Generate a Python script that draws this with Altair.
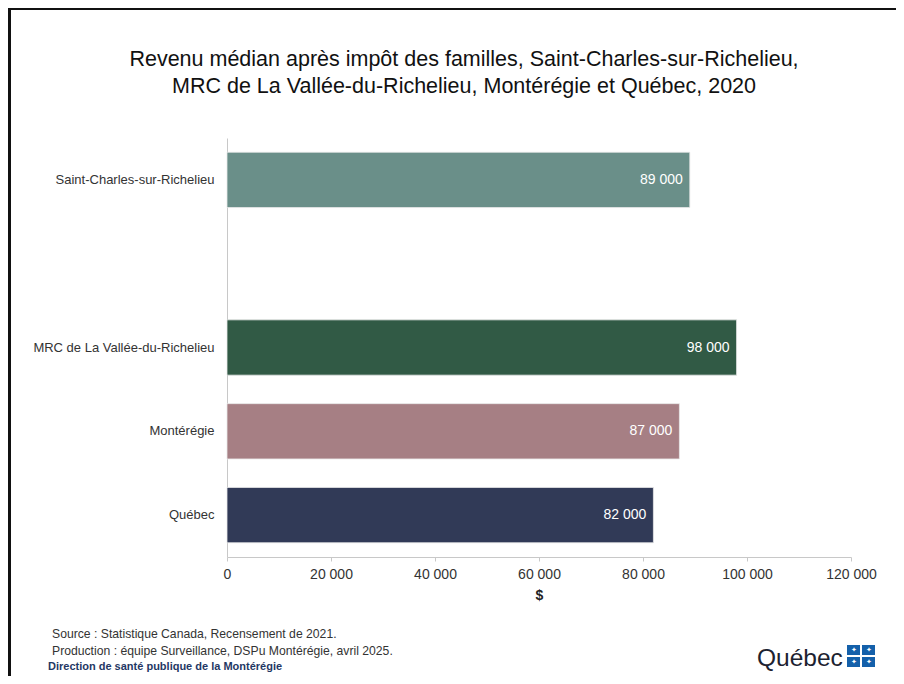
import altair as alt
import pandas as pd

categories = ["Saint-Charles-sur-Richelieu", "MRC de La Vallée-du-Richelieu", "Montérégie", "Québec"]
values = [89000, 98000, 87000, 82000]
colors = ["#6a8f89", "#315a45", "#a67f84", "#313a57"]
domain_order = ["Saint-Charles-sur-Richelieu", " ", "MRC de La Vallée-du-Richelieu", "Montérégie", "Québec"]
x_ticks = [0, 20000, 40000, 60000, 80000, 100000, 120000]

title_lines = [
    "Revenu médian après impôt des familles, Saint-Charles-sur-Richelieu,",
    "MRC de La Vallée-du-Richelieu, Montérégie et Québec, 2020",
]
footer_lines = [
    "Source : Statistique Canada,  Recensement de 2021.",
    "Production : équipe Surveillance, DSPu Montérégie, avril 2025.",
]
footer_org = "Direction de santé publique de la Montérégie"
logo_text = "Québec"

df = pd.DataFrame({"cat": categories, "val": values, "col": colors})

W, H = 624, 419
FONT = "Liberation Sans"
OX, OY = 227, 138  # plot origin on page


def txt(s, x, y, **kw):
    return alt.Chart(pd.DataFrame({"t": [s]})).mark_text(**kw).encode(
        text="t:N", x=alt.value(x - OX), y=alt.value(y - OY))


def box(x0, x1, y0, y1, color):
    return alt.Chart(pd.DataFrame({"a": [0]})).mark_rect(color=color).encode(
        x=alt.value(x0 - OX), x2=alt.value(x1 - OX),
        y=alt.value(y0 - OY), y2=alt.value(y1 - OY))


base = alt.Chart(df)

bars = base.mark_bar(stroke="#e8e8e8", strokeWidth=0.8).encode(
    y=alt.Y("cat:N", sort=domain_order,
            scale=alt.Scale(domain=domain_order, paddingInner=0.34, paddingOuter=0.17),
            axis=alt.Axis(title=None, ticks=False, domainColor="#c8c8c8", labelFont=FONT,
                          labelFontSize=13, labelColor="#333333", labelPadding=13, labelLimit=300)),
    x=alt.X("val:Q", scale=alt.Scale(domain=[0, 120000]),
            axis=alt.Axis(values=x_ticks, title="$", titleFont=FONT, titleFontSize=14,
                          titleFontWeight="bold", titleColor="#222222", titlePadding=7,
                          labelFont=FONT, labelFontSize=14, labelColor="#333333",
                          labelPadding=6, labelFlush=False, tickColor="#c8c8c8", tickSize=4,
                          domainColor="#c8c8c8", grid=False,
                          labelExpr="replace(format(datum.value, ',d'), ',', ' ')")),
    color=alt.Color("col:N", scale=None),
)

labels = base.transform_calculate(
    lab="replace(format(datum.val, ',d'), ',', ' ')"
).mark_text(align="right", baseline="middle", dx=-7, color="white", font=FONT, fontSize=14).encode(
    y=alt.Y("cat:N", sort=domain_order),
    x="val:Q",
    text="lab:N",
)

tkw = dict(align="center", baseline="middle", font=FONT, fontSize=21.5, color="#111111")
t1 = txt(title_lines[0], 464, 60, **tkw)
t2 = txt(title_lines[1], 464, 87, **tkw)

fkw = dict(align="left", baseline="middle", font=FONT, fontSize=12.2, color="#333333")
f1 = txt(footer_lines[0], 52, 634, **fkw)
f2 = txt(footer_lines[1], 52, 651, **fkw)
f3 = txt(footer_org, 48, 667, align="left", baseline="middle", font=FONT, fontSize=11,
         fontWeight="bold", color="#1f3864")

logo = txt(logo_text, 757, 666, align="left", baseline="alphabetic", font=FONT,
           fontSize=24.5, color="#1c2230")

sq = []
for (x0, y0) in [(847, 645), (862, 645), (847, 657), (862, 657)]:
    sq.append(box(x0, x0 + 13, y0, y0 + 10, "#1460aa"))
    sq.append(txt("✦", x0 + 6.5, y0 + 5, color="white", fontSize=7, align="center",
                  baseline="middle"))

border_top = box(8, 897, 7, 10, "#111111")
border_left = box(8, 11, 7, 684, "#111111")

chart = alt.layer(bars, labels, t1, t2, f1, f2, f3, logo, *sq, border_top, border_left).properties(
    width=W, height=H,
    autosize=alt.AutoSizeParams(type="none"),
    padding={"left": 219, "top": 130, "right": 45, "bottom": 119},
).configure(background="white").configure_view(stroke=None)

chart.save("out.html", embed_options={"renderer": "svg", "actions": False})
